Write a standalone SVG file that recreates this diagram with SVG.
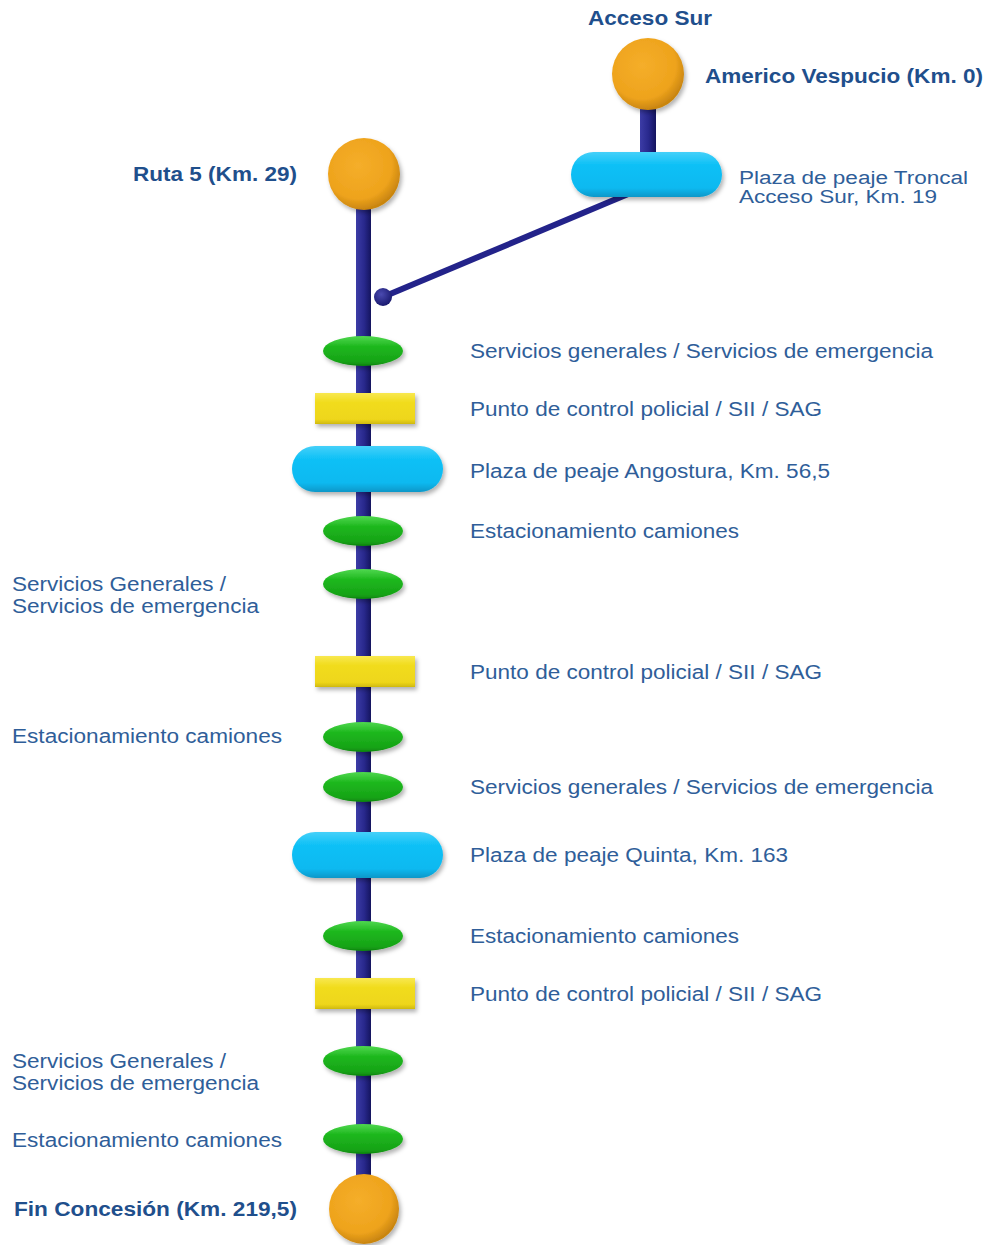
<svg xmlns="http://www.w3.org/2000/svg" width="988" height="1245" viewBox="0 0 988 1245">
<defs>
<radialGradient id="gOrange" cx="0.42" cy="0.38" r="0.62">
<stop offset="0" stop-color="#f5ae2a"/>
<stop offset="0.75" stop-color="#eea31c"/>
<stop offset="1" stop-color="#c98510"/>
</radialGradient>
<linearGradient id="gBlue" x1="0" y1="0" x2="0" y2="1">
<stop offset="0" stop-color="#45d0f9"/>
<stop offset="0.3" stop-color="#0cc0f6"/>
<stop offset="0.8" stop-color="#0ab9f0"/>
<stop offset="1" stop-color="#0897c8"/>
</linearGradient>
<linearGradient id="gGreen" x1="0" y1="0" x2="0" y2="1">
<stop offset="0" stop-color="#4fd84f"/>
<stop offset="0.35" stop-color="#1fb81f"/>
<stop offset="0.85" stop-color="#16a316"/>
<stop offset="1" stop-color="#0e850e"/>
</linearGradient>
<linearGradient id="gYellow" x1="0" y1="0" x2="0" y2="1">
<stop offset="0" stop-color="#f8e850"/>
<stop offset="0.3" stop-color="#f1dc1c"/>
<stop offset="0.85" stop-color="#eed61a"/>
<stop offset="1" stop-color="#cfb90e"/>
</linearGradient>
<linearGradient id="gLine" x1="0" y1="0" x2="1" y2="0">
<stop offset="0" stop-color="#3c3ca6"/>
<stop offset="0.55" stop-color="#28288c"/>
<stop offset="1" stop-color="#14145e"/>
</linearGradient>
<radialGradient id="gBall" cx="0.4" cy="0.35" r="0.65">
<stop offset="0" stop-color="#4a4ab0"/>
<stop offset="1" stop-color="#1a1a70"/>
</radialGradient>
<filter id="sh" x="-20%" y="-30%" width="150%" height="180%">
<feDropShadow dx="2" dy="3" stdDeviation="2" flood-color="#000" flood-opacity="0.3"/>
</filter>
</defs>
<style>
.lbl{font-family:"Liberation Sans",Arial,sans-serif;font-size:20px;fill:#2f5e99}
.sm{font-size:18px}
.bold{font-family:"Liberation Sans",Arial,sans-serif;font-size:20px;font-weight:bold;fill:#1f4f8c}
.circ{fill:url(#gOrange);filter:url(#sh)}
.cap{fill:url(#gBlue);filter:url(#sh)}
.ell{fill:url(#gGreen);filter:url(#sh)}
.ctl{fill:url(#gYellow);filter:url(#sh)}
</style>
<g id="connectors">
<rect x="356" y="174" width="15" height="1035" fill="url(#gLine)"/>
<rect x="640" y="74" width="16" height="100" fill="url(#gLine)"/>
<line x1="383" y1="297" x2="640" y2="189" stroke="#23238a" stroke-width="6"/>
<circle cx="383" cy="297" r="9" fill="url(#gBall)"/>
</g>
<g id="acceso-sur">
<circle class="circ" cx="648" cy="74" r="36"/>
<text class="bold" x="588" y="25" textLength="124" lengthAdjust="spacingAndGlyphs">Acceso Sur</text>
<text class="bold" x="705" y="83" textLength="278" lengthAdjust="spacingAndGlyphs">Americo Vespucio (Km. 0)</text>
</g>
<g id="peaje-troncal">
<rect class="cap" x="571" y="152" width="151" height="45" rx="22.5"/>
<text class="lbl sm" x="739" y="184" textLength="229" lengthAdjust="spacingAndGlyphs">Plaza de peaje Troncal</text>
<text class="lbl sm" x="739" y="203" textLength="198" lengthAdjust="spacingAndGlyphs">Acceso Sur, Km. 19</text>
</g>
<g id="ruta5">
<circle class="circ" cx="364" cy="174" r="36"/>
<text class="bold" x="133" y="181" textLength="164" lengthAdjust="spacingAndGlyphs">Ruta 5 (Km. 29)</text>
</g>
<g id="servicios-1">
<ellipse class="ell" cx="363" cy="351" rx="40" ry="15"/>
<text class="lbl" x="470" y="358" textLength="463" lengthAdjust="spacingAndGlyphs">Servicios generales / Servicios de emergencia</text>
</g>
<g id="control-1">
<rect class="ctl" x="315" y="393" width="100" height="31"/>
<text class="lbl" x="470" y="416" textLength="352" lengthAdjust="spacingAndGlyphs">Punto de control policial / SII / SAG</text>
</g>
<g id="peaje-angostura">
<rect class="cap" x="292" y="446" width="151" height="46" rx="23"/>
<text class="lbl" x="470" y="478" textLength="360" lengthAdjust="spacingAndGlyphs">Plaza de peaje Angostura, Km. 56,5</text>
</g>
<g id="estacionamiento-1">
<ellipse class="ell" cx="363" cy="531" rx="40" ry="15"/>
<text class="lbl" x="470" y="538" textLength="269" lengthAdjust="spacingAndGlyphs">Estacionamiento camiones</text>
</g>
<g id="servicios-2">
<ellipse class="ell" cx="363" cy="584" rx="40" ry="15"/>
<text class="lbl" x="12" y="591" textLength="214" lengthAdjust="spacingAndGlyphs">Servicios Generales /</text>
<text class="lbl" x="12" y="613" textLength="247" lengthAdjust="spacingAndGlyphs">Servicios de emergencia</text>
</g>
<g id="control-2">
<rect class="ctl" x="315" y="656" width="100" height="31"/>
<text class="lbl" x="470" y="679" textLength="352" lengthAdjust="spacingAndGlyphs">Punto de control policial / SII / SAG</text>
</g>
<g id="estacionamiento-2">
<ellipse class="ell" cx="363" cy="737" rx="40" ry="15"/>
<text class="lbl" x="12" y="743" textLength="270" lengthAdjust="spacingAndGlyphs">Estacionamiento camiones</text>
</g>
<g id="servicios-3">
<ellipse class="ell" cx="363" cy="787" rx="40" ry="15"/>
<text class="lbl" x="470" y="794" textLength="463" lengthAdjust="spacingAndGlyphs">Servicios generales / Servicios de emergencia</text>
</g>
<g id="peaje-quinta">
<rect class="cap" x="292" y="832" width="151" height="46" rx="23"/>
<text class="lbl" x="470" y="862" textLength="318" lengthAdjust="spacingAndGlyphs">Plaza de peaje Quinta, Km. 163</text>
</g>
<g id="estacionamiento-3">
<ellipse class="ell" cx="363" cy="936" rx="40" ry="15"/>
<text class="lbl" x="470" y="943" textLength="269" lengthAdjust="spacingAndGlyphs">Estacionamiento camiones</text>
</g>
<g id="control-3">
<rect class="ctl" x="315" y="978" width="100" height="31"/>
<text class="lbl" x="470" y="1001" textLength="352" lengthAdjust="spacingAndGlyphs">Punto de control policial / SII / SAG</text>
</g>
<g id="servicios-4">
<ellipse class="ell" cx="363" cy="1061" rx="40" ry="15"/>
<text class="lbl" x="12" y="1068" textLength="214" lengthAdjust="spacingAndGlyphs">Servicios Generales /</text>
<text class="lbl" x="12" y="1090" textLength="247" lengthAdjust="spacingAndGlyphs">Servicios de emergencia</text>
</g>
<g id="estacionamiento-4">
<ellipse class="ell" cx="363" cy="1139" rx="40" ry="15"/>
<text class="lbl" x="12" y="1147" textLength="270" lengthAdjust="spacingAndGlyphs">Estacionamiento camiones</text>
</g>
<g id="fin-concesion">
<circle class="circ" cx="364" cy="1209" r="35"/>
<text class="bold" x="14" y="1216" textLength="283" lengthAdjust="spacingAndGlyphs">Fin Concesión (Km. 219,5)</text>
</g>
</svg>
